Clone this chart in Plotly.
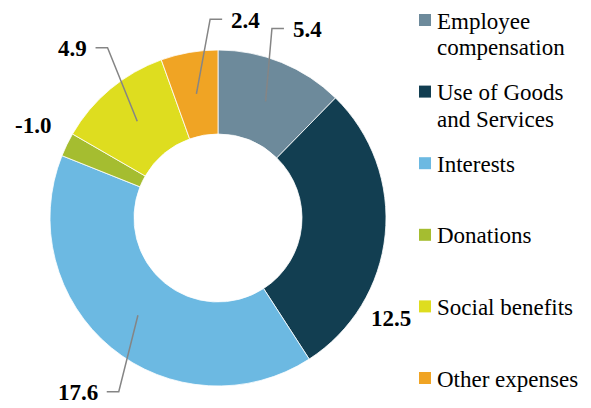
import math
import plotly.graph_objects as go

# expenditure breakdown, values as labelled on the chart
labels = ["Employee compensation", "Use of Goods and Services", "Interests",
          "Donations", "Social benefits", "Other expenses"]
legend_lines = [["Employee", "compensation"], ["Use of Goods", "and Services"], ["Interests"],
                ["Donations"], ["Social benefits"], ["Other expenses"]]
values = [5.4, 12.5, 17.6, -1.0, 4.9, 2.4]
colors = ["#6d8a9b", "#123e51", "#6cb9e2", "#a5bd30", "#dedd1f", "#f0a424"]

W, H = 591, 408
CX, CY, R_OUT = 218, 218, 168
HOLE = 0.5
FONT = "Liberation Serif"
LINE_COLOR = "#858585"

# value label placement: (angle shift from slice middle, radius, side, leader line)
label_place = {
    "Employee compensation": (-6.3, 197, "right", True),
    "Use of Goods and Services": (24.3, 200, "center", False),
    "Interests": (-9.7, 200, "left", True),
    "Donations": (0.6, 207, "center", False),
    "Social benefits": (6.9, 203, "left", True),
    "Other expenses": (7.6, 199, "right", True),
}


def px(x, y):
    # pixel position -> paper coords
    return x / W, 1 - y / H


def polar(ang, r):
    a = math.radians(ang)
    return CX + r * math.sin(a), CY - r * math.cos(a)


# negative donations still drawn as a slice of its size
sizes = [abs(v) for v in values]
total = sum(sizes)

dx0, dy0 = px(CX - R_OUT, CY + R_OUT)
dx1, dy1 = px(CX + R_OUT, CY - R_OUT)

fig = go.Figure()
fig.add_trace(go.Pie(
    labels=labels,
    values=sizes,
    hole=HOLE,
    sort=False,
    direction="clockwise",
    rotation=0,
    textinfo="none",
    showlegend=False,
    marker=dict(colors=colors, line=dict(color="white", width=0.8)),
    domain=dict(x=[dx0, dx1], y=[dy0, dy1]),
))

shapes = []
annotations = []

# value labels with leader lines
cum = 0
r_mid = R_OUT * (1 + HOLE) / 2
for name, v, s in zip(labels, values, sizes):
    mid = (cum + s / 2) / total * 360
    cum += s
    shift, rad, side, leader = label_place[name]
    ex, ey = polar(mid + shift, rad)
    if leader:
        sx, sy = polar(mid, r_mid)
        hx = ex + (12 if side == "right" else -12)
        x0, y0 = px(sx, sy)
        x1, y1 = px(ex, ey)
        x2, y2 = px(hx, ey)
        shapes.append(dict(type="path", xref="paper", yref="paper", layer="above",
                           path=f"M {x0},{y0} L {x1},{y1} L {x2},{y2}",
                           line=dict(color=LINE_COLOR, width=1.5)))
        tx = hx + (7 if side == "right" else -7)
        ty = ey + 1
        anchor = "left" if side == "right" else "right"
    else:
        tx, ty = ex, ey
        anchor = "center"
    ax_, ay_ = px(tx, ty)
    annotations.append(dict(x=ax_, y=ay_, xref="paper", yref="paper",
                            text=f"<b>{v:.1f}</b>", showarrow=False,
                            xanchor=anchor, yanchor="middle",
                            font=dict(family=FONT, size=23, color="black")))

# legend drawn by hand so the square sits tight against the text
leg_y0, leg_step, leg_line = 20, 71.6, 26.5
for i, (lines, c) in enumerate(zip(legend_lines, colors)):
    my = leg_y0 + i * leg_step
    x0, y0 = px(419, my - 6)
    x1, y1 = px(431, my + 6)
    shapes.append(dict(type="rect", xref="paper", yref="paper", x0=x0, x1=x1, y0=y0, y1=y1,
                       fillcolor=c, line=dict(width=0)))
    for k, line in enumerate(lines):
        tx, ty = px(435, my + 1 + k * leg_line)
        annotations.append(dict(x=tx, y=ty, xref="paper", yref="paper", text=line,
                                showarrow=False, xanchor="left", yanchor="middle", align="left",
                                font=dict(family=FONT, size=23, color="black")))

fig.update_layout(
    width=W,
    height=H,
    margin=dict(l=0, r=0, t=0, b=0),
    paper_bgcolor="white",
    plot_bgcolor="white",
    shapes=shapes,
    annotations=annotations,
)

# drop the default body margin so the figure fills the window
fig.write_html("out.html", config={"displayModeBar": False},
               post_script="document.body.style.margin = '0';")
